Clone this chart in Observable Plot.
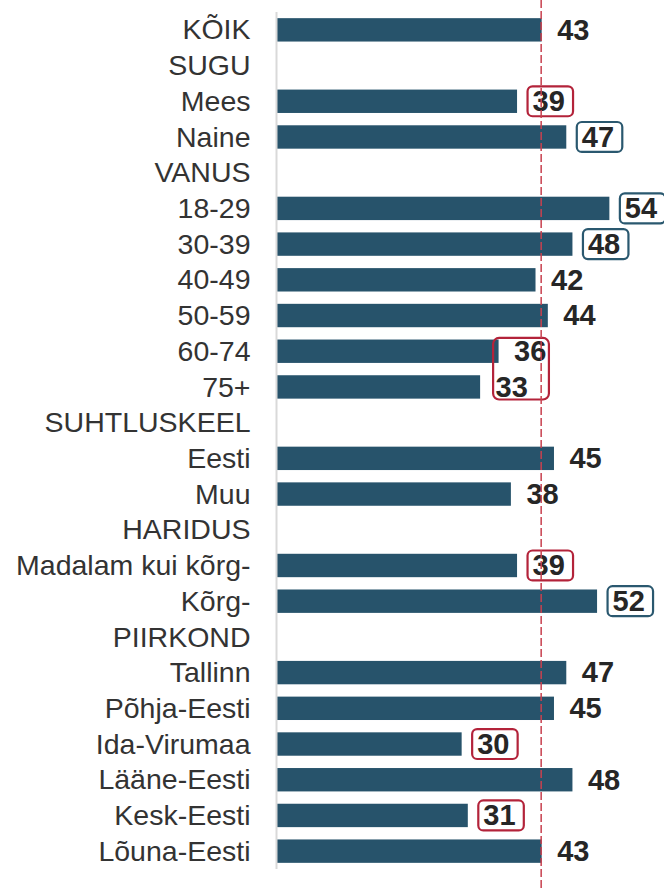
<!DOCTYPE html>
<html><head><meta charset="utf-8">
<script src="https://cdn.jsdelivr.net/npm/d3@7"></script>
<script src="https://cdn.jsdelivr.net/npm/@observablehq/plot@0.6"></script>
<style>body{margin:0;background:#fff}</style>
</head><body><div id="chart"></div>
<script>
const categories = ["KÕIK","SUGU","Mees","Naine","VANUS","18-29","30-39","40-49","50-59","60-74","75+","SUHTLUSKEEL","Eesti","Muu","HARIDUS","Madalam kui kõrg-","Kõrg-","PIIRKOND","Tallinn","Põhja-Eesti","Ida-Virumaa","Lääne-Eesti","Kesk-Eesti","Lõuna-Eesti"];
const values = [43,null,39,47,null,54,48,42,44,36,33,null,45,38,null,39,52,null,47,45,30,48,31,43];
const flags = ["","","low","high","","high","high","","","group","group","","","","","low","high","","","","low","","low",""];
const average = 43;

const rows = categories.map((c, i) => ({c, v: values[i], f: flags[i]}));
const withValue = rows.filter(d => d.v != null);
const single = rows.filter(d => d.f === "low" || d.f === "high");
const group = rows.filter(d => d.f === "group");
const groupBox = [{c: group[0].c, v: d3.min(group, d => d.v)}];
const boxColor = {low: "#b3233a", high: "#2a586f"};

const plot = Plot.plot({
  width: 664, height: 888,
  marginLeft: 277, marginRight: 17.7, marginTop: 12, marginBottom: 19,
  style: {fontFamily: "'Liberation Sans', Arial, sans-serif", background: "#fff"},
  x: {domain: [0, 60], axis: null},
  y: {domain: categories, paddingInner: 0.345, paddingOuter: 0.1725, round: false},
  marks: [
    Plot.axisY({tickSize: 0, tickPadding: 27, fontSize: 28.5, fill: "#333", label: null}),
    Plot.barX(withValue, {x: "v", y: "c", fill: "#27536b"}),
    Plot.ruleX([0], {stroke: "#d9d9d9", strokeWidth: 2, dx: -1}),
    Plot.barX(single, {x1: "v", x2: "v", y: "c", insetLeft: 10.5, insetRight: -56, insetTop: -3.3, insetBottom: -3.3, rx: 5, fill: "none", stroke: d => boxColor[d.f], strokeWidth: 2.2}),
    Plot.barX(groupBox, {x1: "v", x2: "v", y: "c", insetLeft: 13, insetRight: -68.8, insetTop: -1.6, insetBottom: -36.6, rx: 6, fill: "none", stroke: boxColor.low, strokeWidth: 2.2}),
    Plot.text(withValue, {x: "v", y: "c", text: d => String(d.v), dx: 15, textAnchor: "start", fontSize: 29, fontWeight: "bold", fill: "#262626"}),
    Plot.ruleX([average], {stroke: "#c8414f", strokeWidth: 1.5, strokeDasharray: "8,3", insetTop: -12, insetBottom: -19, dx: -1})
  ]
});
document.getElementById("chart").appendChild(plot);
</script>
</body></html>
